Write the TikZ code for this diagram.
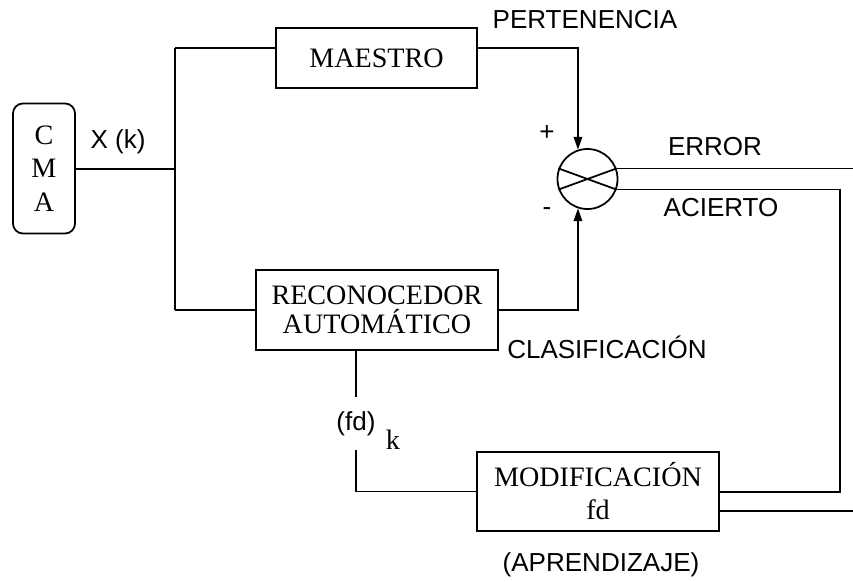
\documentclass[tikz,border=0pt]{standalone}
\usepackage{fontspec}
\setmainfont{Liberation Serif}
\setsansfont{Liberation Sans}
\usepackage{tikz}
\usetikzlibrary{shapes, arrows.meta, positioning}
\usetikzlibrary{calc}

\begin{document}
\begin{tikzpicture}
  [
    x=0.025cm, y=-0.025cm,
    Block/.style={rectangle, draw=black, line width=1.25pt, align=center, inner sep=0pt, font=\fontsize{20}{20.6}\selectfont},
    Source/.style={Block, rounded corners=2.5mm},
    Sum/.style={circle, draw=black, line width=1.25pt, minimum size=15mm, inner sep=0pt},
    Tag/.style={font=\sffamily\fontsize{18.5}{20}\selectfont, inner sep=0pt},
    Wire/.style={draw, line width=1.25pt},
    Arrow/.style={Wire, -{Triangle[length=9pt, width=6pt]}}
  ]
  \useasboundingbox (0,0) rectangle (853,581);
  % Nodes
  \node[Source, minimum width=15.5mm, minimum height=32.5mm, font=\fontsize{20}{24}\selectfont] (cma) at (44,168.5) {C\\M\\A};
  \node[Block, minimum width=50.25mm, minimum height=15mm] (maestro) at (376.5,58) {MAESTRO};
  \node[Block, minimum width=60.5mm, minimum height=20mm] (reco) at (377,310) {RECONOCEDOR\\AUTOMÁTICO};
  \node[Block, minimum width=60.5mm, minimum height=19.75mm, font=\fontsize{20}{23.4}\selectfont] (modif) at (598,491.5) {MODIFICACIÓN\\fd};
  \node[Sum] (sum) at (587.5,179) {};
  % Labels
  \node[Tag] (xk) at (118,142) {X (k)};
  \node[Tag] (perten) at (585,20) {PERTENENCIA};
  \node[Tag] (plus) at (547,133) {+};
  \node[Tag] (minus) at (547,212) {-};
  \node[Tag] (error) at (715,147) {ERROR};
  \node[Tag] (acierto) at (721,208) {ACIERTO};
  \node[Tag] (clasif) at (607,347) {CLASIFICACIÓN};
  \node[Tag] (aprend) at (601,565) {(APRENDIZAJE)};
  \node[Tag, minimum height=13.25mm] (fd) at (356,423.5) {(fd)};
  \node[font=\fontsize{20}{20}\selectfont, inner sep=0pt] (kk) at (393,440) {k};
  % Corners
  \coordinate (split) at (175,169);
  \coordinate (top) at (175,48);
  \coordinate (bottom) at (175,310);
  \coordinate (pin) at (sum.108 |- top);
  \coordinate (turn) at (840,492);
  \coordinate (edge) at (853,0);
  \coordinate (low) at (853,511);
  % Lines
  \path [Wire] (split -| cma.east) -- (split);
  \path [Wire] (top) -- (bottom);
  \path [Wire] (top) -- (top -| maestro.west);
  \path [Wire] (bottom) -- (reco.west);
  \path [Arrow] (top -| maestro.east) -- (pin) -- (sum.108);
  \path [Arrow] (reco.east) -| (sum.252);
  \path [Wire] (sum.160) -- (sum.-20);
  \path [Wire] (sum.200) -- (sum.20);
  \path [Wire] (sum.20) -- (sum.20 -| edge);
  \path [Wire] (sum.-20) -| (turn) -- (turn -| modif.east);
  \path [Wire] (low -| modif.east) -- (low);
  \path [Wire] (fd |- reco.south) -- (fd.north);
  \path [Wire] (fd.south) |- (modif.west);
\end{tikzpicture}
\end{document}
